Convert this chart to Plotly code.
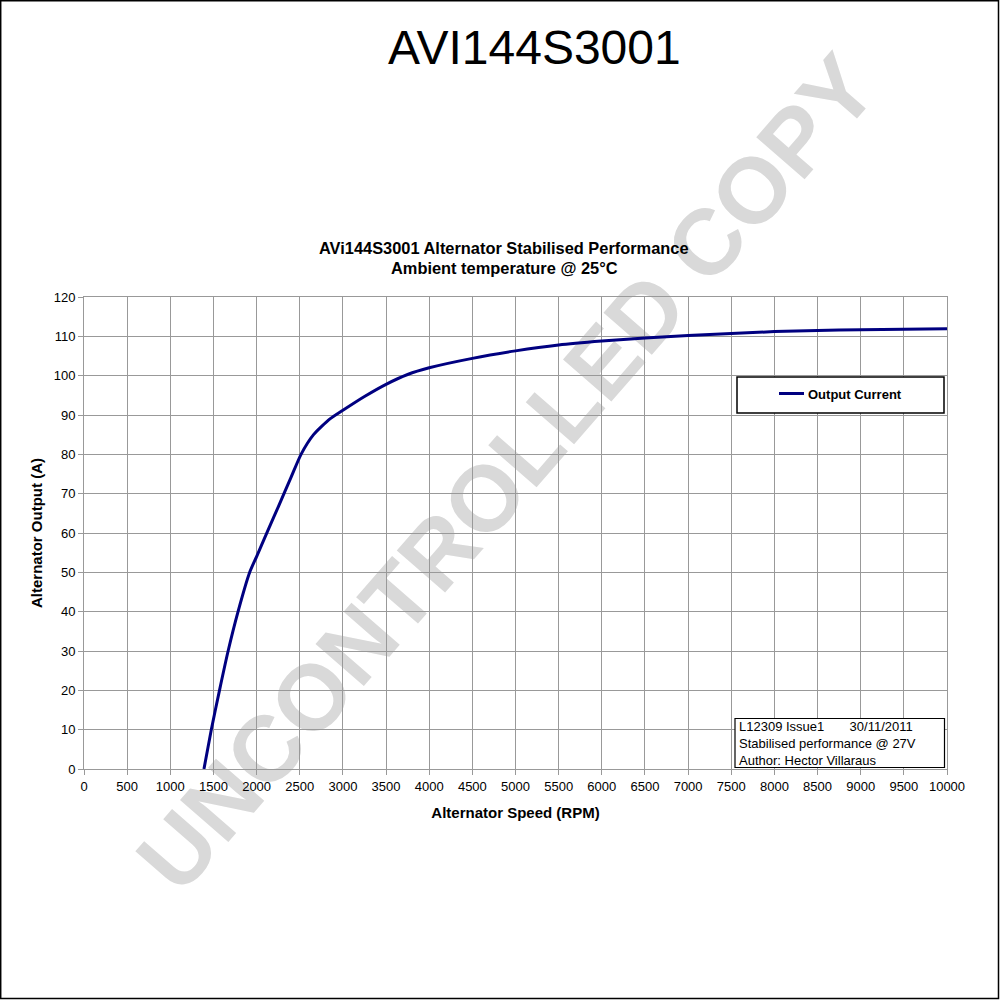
import plotly.graph_objects as go

# ---- data ----
speed_rpm = [1390, 1475, 1570, 1670, 1785, 1920, 2000, 2110, 2250, 2400, 2515, 2660,
             2850, 3000, 3250, 3500, 3750, 4000, 4500, 5000, 5500, 6000, 6500, 7000,
             7500, 8000, 8500, 9000, 9500, 10000]
output_current = [0, 10, 20, 30, 40, 50, 54, 59.6, 66.6, 74.2, 80, 85,
                  89, 91.2, 94.7, 97.8, 100.3, 102.0, 104.4, 106.3, 107.8, 108.8, 109.6, 110.2,
                  110.7, 111.2, 111.5, 111.7, 111.8, 111.9]
x_ticks = list(range(0, 10001, 500))
y_ticks = list(range(0, 121, 10))

W, H = 1000, 1000
L, R, T, B = 84, 53, 297, 231
PW, PH = W - L - R, H - T - B


def px(x):
    return (x - L) / PW


def py(y):
    return (H - B - y) / PH


FONT = "Liberation Sans, Arial, sans-serif"
GRID = "#999999"

fig = go.Figure()
fig.add_trace(go.Scatter(
    x=speed_rpm, y=output_current, mode="lines", name="Output Current",
    line=dict(color="#000080", width=3, shape="spline", smoothing=0.6),
    showlegend=False,
))

fig.update_layout(
    width=W, height=H,
    margin=dict(l=L, r=R, t=T, b=B),
    paper_bgcolor="white", plot_bgcolor="white",
    font=dict(family=FONT, color="black", size=13),
    xaxis=dict(range=[0, 10000], tickvals=x_ticks, ticktext=[str(v) for v in x_ticks],
               showgrid=True, gridcolor=GRID, gridwidth=1, zeroline=False,
               showline=True, linecolor=GRID, linewidth=1, mirror=True,
               ticks="outside", ticklen=5, tickcolor=GRID,
               tickfont=dict(size=13),
               title=dict(text="<b>Alternator Speed (RPM)</b>", font=dict(size=15), standoff=14)),
    yaxis=dict(range=[0, 120], tickvals=y_ticks, ticktext=[str(v) for v in y_ticks],
               showgrid=True, gridcolor=GRID, gridwidth=1, zeroline=False,
               showline=True, linecolor=GRID, linewidth=1, mirror=True,
               ticks="outside", ticklen=5, tickcolor=GRID,
               tickfont=dict(size=13),
               title=dict(text="<b>Alternator Output (A)</b>", font=dict(size=15), standoff=7)),
)

shapes = []
annotations = []

# watermark (between gridlines and traces)
shapes.append(dict(
    type="rect", xref="paper", yref="paper",
    x0=px(450), x1=px(550), y0=py(517), y1=py(417),
    line=dict(width=0), fillcolor="rgba(0,0,0,0)", layer="between",
    label=dict(text="<b>UNCONTROLLED COPY</b>", textangle=-49, textposition="middle center",
               font=dict(family=FONT, size=93, color="#d9d9d9")),
))

# page frame
shapes.append(dict(type="rect", xref="paper", yref="paper",
                   x0=px(0.7), x1=px(998.5), y0=py(998.5), y1=py(0.7),
                   line=dict(color="black", width=1.5), layer="above"))

# legend box
shapes.append(dict(type="rect", xref="paper", yref="paper",
                   x0=px(737), x1=px(944), y0=py(413), y1=py(377),
                   line=dict(color="black", width=1.5), fillcolor="white", layer="above"))
shapes.append(dict(type="line", xref="paper", yref="paper",
                   x0=px(779), x1=px(804), y0=py(393.5), y1=py(393.5),
                   line=dict(color="#000080", width=3), layer="above"))
annotations.append(dict(text="<b>Output Current</b>", xref="paper", yref="paper",
                        x=px(806), y=py(394), xanchor="left", yanchor="middle",
                        showarrow=False, font=dict(size=13)))

# info text box
shapes.append(dict(type="rect", xref="paper", yref="paper",
                   x0=px(735), x1=px(944.5), y0=py(767.5), y1=py(718.5),
                   line=dict(color="black", width=1.2), fillcolor="white", layer="above"))
annotations.append(dict(
    text="L12309 Issue1&nbsp;&nbsp;&nbsp;&nbsp;&nbsp;&nbsp;&nbsp;30/11/2011<br>Stabilised performance @ 27V<br>Author: Hector Villaraus",
    xref="paper", yref="paper", x=px(737), y=py(743), xanchor="left", yanchor="middle",
    align="left", showarrow=False, font=dict(size=13)))

# titles
annotations.append(dict(text="AVI144S3001", xref="paper", yref="paper",
                        x=px(534), y=py(47), xanchor="center", yanchor="middle",
                        showarrow=False, font=dict(size=48)))
annotations.append(dict(text="<b>AVi144S3001 Alternator Stabilised Performance</b>",
                        xref="paper", yref="paper", x=px(504), y=py(248),
                        xanchor="center", yanchor="middle", showarrow=False,
                        font=dict(size=16.4)))
annotations.append(dict(text="<b>Ambient temperature @ 25°C</b>",
                        xref="paper", yref="paper", x=px(504), y=py(268),
                        xanchor="center", yanchor="middle", showarrow=False,
                        font=dict(size=16.4)))

fig.update_layout(shapes=shapes, annotations=annotations)
fig.write_html("out.html", config={"displayModeBar": False},
               post_script="document.body.style.margin='0';document.body.style.overflow='hidden';")
